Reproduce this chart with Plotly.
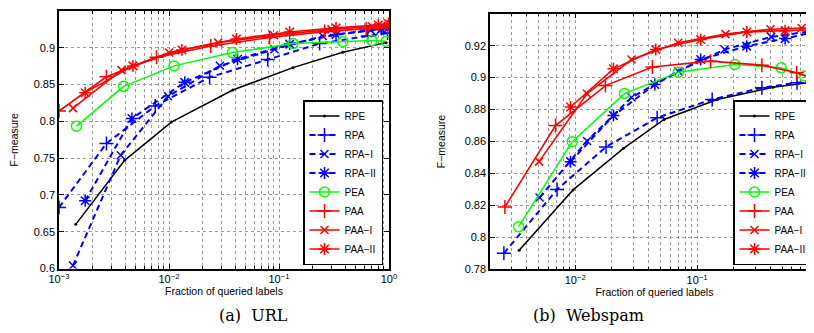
import math
import plotly.graph_objects as go

# ---------------- data: (a) URL ----------------
url_rpe_x = [0.00142, 0.00395, 0.0105, 0.038, 0.134, 0.38, 0.94]
url_rpe_y = [0.660, 0.747, 0.799, 0.8426, 0.873, 0.894, 0.907]
url_rpa_x = [0.001, 0.0027, 0.0075, 0.0234, 0.079, 0.234, 0.64, 0.97]
url_rpa_y = [0.683, 0.770, 0.821, 0.860, 0.884, 0.9057, 0.916, 0.920]
url_rpai_x = [0.00134, 0.00364, 0.0098, 0.029, 0.091, 0.25, 0.68, 0.97]
url_rpai_y = [0.604, 0.754, 0.834, 0.8755, 0.898, 0.916, 0.924, 0.926]
url_rpaii_x = [0.00173, 0.0046, 0.0139, 0.042, 0.125, 0.33, 0.85]
url_rpaii_y = [0.692, 0.804, 0.853, 0.8845, 0.905, 0.918, 0.925]
url_pea_x = [0.00144, 0.00387, 0.0111, 0.0377, 0.134, 0.38, 0.7, 0.94]
url_pea_y = [0.7935, 0.8476, 0.8754, 0.8935, 0.9057, 0.9083, 0.910, 0.909]
url_paa_x = [0.001, 0.0027, 0.0077, 0.024, 0.082, 0.26, 0.62, 0.97]
url_paa_y = [0.814, 0.8606, 0.887, 0.9025, 0.914, 0.922, 0.926, 0.928]
url_paai_x = [0.00134, 0.0037, 0.01, 0.028, 0.09, 0.3, 0.7, 0.98]
url_paai_y = [0.818, 0.8696, 0.8935, 0.907, 0.917, 0.925, 0.929, 0.930]
url_paaii_x = [0.00173, 0.0047, 0.0131, 0.041, 0.125, 0.33, 0.8, 0.99]
url_paaii_y = [0.839, 0.8754, 0.897, 0.912, 0.9214, 0.927, 0.931, 0.933]

# ---------------- data: (b) Webspam ----------------
ws_rpe_x = [0.00347, 0.0096, 0.0249, 0.0536, 0.146, 0.42, 0.93]
ws_rpe_y = [0.792, 0.8297, 0.8557, 0.8738, 0.8863, 0.894, 0.8974]
ws_rpa_x = [0.0026, 0.0071, 0.0179, 0.047, 0.133, 0.34, 0.66, 0.97]
ws_rpa_y = [0.790, 0.830, 0.8566, 0.8749, 0.8863, 0.8936, 0.8968, 0.898]
ws_rpai_x = [0.0051, 0.0125, 0.029, 0.07, 0.168, 0.405, 0.85]
ws_rpai_y = [0.8249, 0.8603, 0.8876, 0.904, 0.9176, 0.9255, 0.929]
ws_rpaii_x = [0.00916, 0.0206, 0.045, 0.107, 0.255, 0.527, 0.97]
ws_rpaii_y = [0.8474, 0.8762, 0.8957, 0.9113, 0.9197, 0.9244, 0.929]
ws_pea_x = [0.00343, 0.00946, 0.0254, 0.0702, 0.204, 0.49, 0.76, 0.96]
ws_pea_y = [0.8066, 0.8599, 0.890, 0.9034, 0.9082, 0.9061, 0.901, 0.8968]
ws_paa_x = [0.00265, 0.0069, 0.0177, 0.043, 0.129, 0.34, 0.656, 0.955]
ws_paa_y = [0.819, 0.870, 0.895, 0.9066, 0.9103, 0.9078, 0.903, 0.899]
ws_paai_x = [0.00505, 0.0125, 0.029, 0.07, 0.171, 0.4, 0.72, 0.98]
ws_paai_y = [0.8474, 0.8899, 0.9113, 0.9218, 0.9272, 0.9303, 0.931, 0.931]
ws_paaii_x = [0.00916, 0.0206, 0.0458, 0.107, 0.256, 0.527, 0.95]
ws_paaii_y = [0.8816, 0.9055, 0.9176, 0.9238, 0.9286, 0.9294, 0.930]

series_names = ["RPE", "RPA", "RPA\u2212I", "RPA\u2212II", "PEA", "PAA", "PAA\u2212I", "PAA\u2212II"]
url_xs = [url_rpe_x, url_rpa_x, url_rpai_x, url_rpaii_x, url_pea_x, url_paa_x, url_paai_x, url_paaii_x]
url_ys = [url_rpe_y, url_rpa_y, url_rpai_y, url_rpaii_y, url_pea_y, url_paa_y, url_paai_y, url_paaii_y]
ws_xs = [ws_rpe_x, ws_rpa_x, ws_rpai_x, ws_rpaii_x, ws_pea_x, ws_paa_x, ws_paai_x, ws_paaii_x]
ws_ys = [ws_rpe_y, ws_rpa_y, ws_rpai_y, ws_rpaii_y, ws_pea_y, ws_paa_y, ws_paai_y, ws_paaii_y]

url_yticks = [0.6, 0.65, 0.7, 0.75, 0.8, 0.85, 0.9]
ws_yticks = [0.78, 0.8, 0.82, 0.84, 0.86, 0.88, 0.9, 0.92]
url_xticks = [0.001, 0.01, 0.1, 1]
url_xticktext = ["10<sup>\u22123</sup>", "10<sup>\u22122</sup>", "10<sup>\u22121</sup>", "10<sup>0</sup>"]
ws_xticks = [0.01, 0.1, 1]
ws_xticktext = ["10<sup>\u22122</sup>", "10<sup>\u22121</sup>", "10<sup>0</sup>"]
minor_mantissas = [2, 3, 4, 5, 6, 7, 8, 9]
minor_decades = [0.001, 0.01, 0.1]

# ---------------- styles ----------------
BLACK, BLUE, GREEN, RED = "#000000", "#0000FF", "#00FF00", "#FF0000"
styles = [
    dict(color=BLACK, dash="solid", symbol="circle", size=3, width=1.5),
    dict(color=BLUE, dash="6px,4px", symbol="cross-thin-open", size=10, width=2),
    dict(color=BLUE, dash="6px,4px", symbol="x-thin-open", size=8, width=2),
    dict(color=BLUE, dash="6px,4px", symbol="asterisk-open", size=10, width=2),
    dict(color=GREEN, dash="solid", symbol="circle-open", size=10, width=1.5),
    dict(color=RED, dash="solid", symbol="cross-thin-open", size=10, width=1.6),
    dict(color=RED, dash="solid", symbol="x-thin-open", size=8, width=1.6),
    dict(color=RED, dash="solid", symbol="asterisk-open", size=10, width=1.6),
]

fig = go.Figure()

def add_series(xs, ys, xa, ya, legend):
    for name, x, y, st in zip(series_names, xs, ys, styles):
        if st["symbol"] == "circle":
            marker = dict(symbol="circle", size=st["size"], color=st["color"])
        else:
            marker = dict(symbol=st["symbol"], size=st["size"], color=st["color"],
                          line=dict(color=st["color"], width=1.5))
        fig.add_trace(go.Scatter(
            x=x, y=y, name=name, mode="lines+markers", xaxis=xa, yaxis=ya,
            legend=legend, cliponaxis=True,
            line=dict(color=st["color"], width=st["width"], dash=st["dash"]),
            marker=marker))

add_series(url_xs, url_ys, "x", "y", "legend")
add_series(ws_xs, ws_ys, "x2", "y2", "legend2")

W, H = 814, 333
def px_x(p):
    return p / W
def px_y(p):
    return 1 - p / H

minor_vals = [m * d for d in minor_decades for m in minor_mantissas]

FONT = "Liberation Sans, Arial, sans-serif"
grid_col = "#9a9a9a"

common_x = dict(type="log", showline=True, linecolor="black", linewidth=1.5, mirror="ticks",
                ticks="inside", ticklen=5, tickwidth=1, tickcolor="black",
                showgrid=True, gridcolor=grid_col, griddash="dot", gridwidth=1,
                zeroline=False, tickfont=dict(family=FONT, size=11, color="black"),
                ticklabelstandoff=0,
                minor=dict(tickmode="array", tickvals=minor_vals, ticks="inside", ticklen=3,
                           tickcolor="black", showgrid=True,
                           gridcolor=grid_col, griddash="dot", gridwidth=1),
                automargin=False,
                title=dict(text="Fraction of queried labels", font=dict(family=FONT, size=10.5, color="black"),
                           standoff=0))
common_y = dict(showline=True, linecolor="black", linewidth=1.5, mirror="ticks",
                ticks="inside", ticklen=5, tickwidth=1, tickcolor="black",
                showgrid=True, gridcolor=grid_col, griddash="dot", gridwidth=1,
                zeroline=False, tickfont=dict(family=FONT, size=11, color="black"),
                automargin=False,
                title=dict(text="F\u2212measure", font=dict(family=FONT, size=10.5, color="black"),
                           standoff=17))

fig.update_layout(
    width=W, height=H, margin=dict(l=0, r=0, t=0, b=0),
    paper_bgcolor="white", plot_bgcolor="white", showlegend=True,
    xaxis=dict(common_x, domain=[px_x(51), px_x(381)], range=[-3, 0],
               tickvals=url_xticks, ticktext=url_xticktext, anchor="y"),
    yaxis=dict(common_y, domain=[px_y(260.5), px_y(3)], range=[0.6, 0.95],
               tickvals=url_yticks, anchor="x"),
    xaxis2=dict(common_x, domain=[px_x(482), px_x(811)], range=[math.log10(0.002), 0],
                tickvals=ws_xticks, ticktext=ws_xticktext, anchor="y2"),
    yaxis2=dict(common_y, domain=[px_y(261.3), px_y(5.7)], range=[0.78, 0.94],
                tickvals=ws_yticks, anchor="x2"),
    legend=dict(x=px_x(295), y=px_y(257), xanchor="left", yanchor="bottom",
                bgcolor="white", bordercolor="black", borderwidth=1.5,
                font=dict(family=FONT, size=10, color="black"), itemwidth=30,
                tracegroupgap=0),
    legend2=dict(x=px_x(725), y=px_y(257), xanchor="left", yanchor="bottom",
                 bgcolor="white", bordercolor="black", borderwidth=1.5,
                 font=dict(family=FONT, size=10, color="black"), itemwidth=30,
                 tracegroupgap=0),
    annotations=[
        dict(text="(a)  URL", x=px_x(209), y=px_y(319), xref="paper", yref="paper",
             showarrow=False, font=dict(family="DejaVu Serif, serif", size=16, color="black")),
        dict(text="(b)  Webspam", x=px_x(638), y=px_y(319), xref="paper", yref="paper",
             showarrow=False, font=dict(family="DejaVu Serif, serif", size=16, color="black")),
    ],
)

fig.write_html("out.html")
